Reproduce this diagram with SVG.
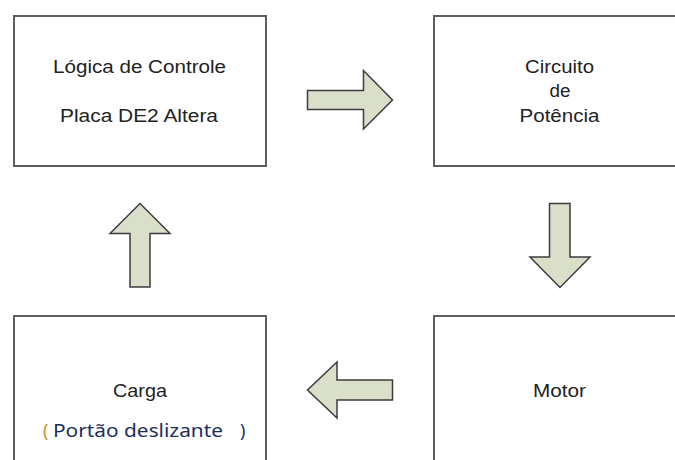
<svg xmlns="http://www.w3.org/2000/svg" width="675" height="460" viewBox="0 0 675 460">
<style>
.box{fill:#ffffff;stroke:#5e5e5e;stroke-width:2}
.arrow{fill:#d9dfc8;stroke:#3c3c3c;stroke-width:1.5;stroke-linejoin:miter}
.t{font-family:"Liberation Sans",Arial,sans-serif;font-size:17.5px;fill:#222222}
.p{font-family:"Noto Sans","Open Sans",sans-serif;font-size:18px}
</style>
<rect width="675" height="460" fill="#ffffff"/>
<g id="node-logica">
<rect class="box" x="14" y="16" width="252" height="150"/>
<text class="t" x="53" y="73" textLength="173" lengthAdjust="spacingAndGlyphs">Lógica de Controle</text>
<text class="t" x="60" y="122" textLength="158" lengthAdjust="spacingAndGlyphs">Placa DE2 Altera</text>
</g>
<g id="node-circuito">
<rect class="box" x="434" y="16" width="260" height="150"/>
<text class="t" x="525" y="73" textLength="69" lengthAdjust="spacingAndGlyphs">Circuito</text>
<text class="t" x="549.5" y="97" textLength="21" lengthAdjust="spacingAndGlyphs">de</text>
<text class="t" x="519.5" y="122" textLength="80" lengthAdjust="spacingAndGlyphs">Potência</text>
</g>
<g id="node-motor">
<rect class="box" x="434" y="316" width="260" height="160"/>
<text class="t" x="533" y="397" textLength="53" lengthAdjust="spacingAndGlyphs">Motor</text>
</g>
<g id="node-carga">
<rect class="box" x="14" y="316" width="252" height="160"/>
<text class="t" x="113" y="397" textLength="54" lengthAdjust="spacingAndGlyphs">Carga</text>
<text class="p" y="437"><tspan x="43" fill="#d08a1e">(</tspan><tspan x="53" fill="#1c2e5e" textLength="170" lengthAdjust="spacingAndGlyphs">Portão deslizante</tspan><tspan x="240" fill="#1c2e5e">)</tspan></text>
</g>
<g id="connectors">
<polygon class="arrow" points="307.5,90.5 363.5,90.5 363.5,70.5 392.5,100 363.5,129 363.5,109.5 307.5,109.5"/>
<polygon class="arrow" points="549.5,203.5 570,203.5 570,257 590,257 560,287.5 530,257 549.5,257"/>
<polygon class="arrow" points="392.5,380 337,380 337,362 307.5,390 337,418 337,400 392.5,400"/>
<polygon class="arrow" points="130,287 150,287 150,233.5 170,233.5 140,203.5 110,233.5 130,233.5"/>
</g>
</svg>
